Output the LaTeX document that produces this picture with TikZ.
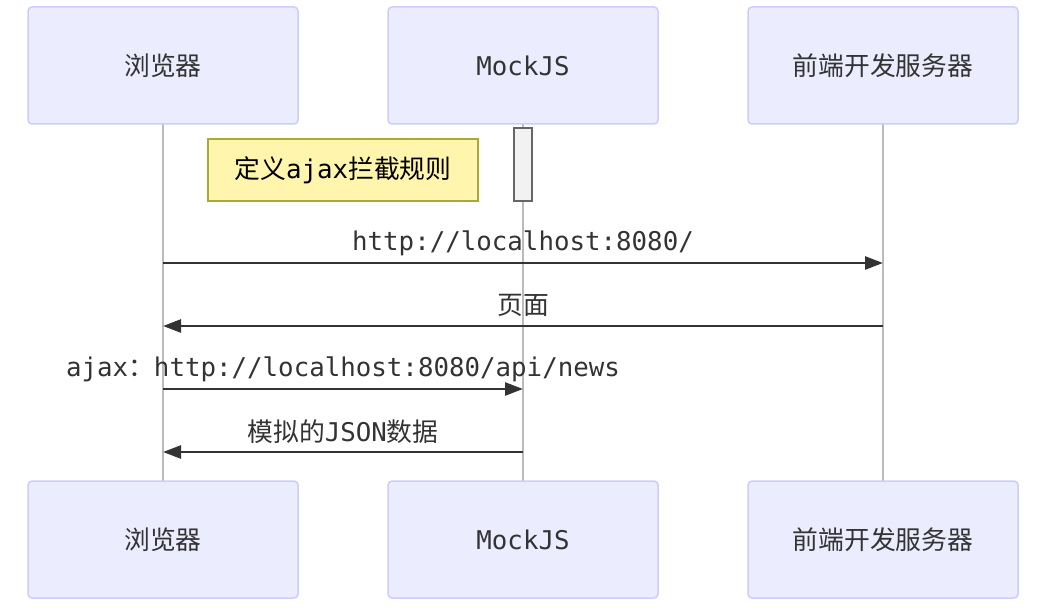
\documentclass[tikz,border=0pt]{standalone}
\usepackage{fontspec}
\setmainfont{DejaVu Sans Mono}
\newfontfamily\cjk{Noto Sans CJK SC}
\usetikzlibrary{arrows.meta}
\definecolor{actfill}{HTML}{ECECFF}
\definecolor{actdraw}{HTML}{CCCCFF}
\definecolor{notefill}{HTML}{FFF5AD}
\definecolor{notedraw}{HTML}{AAAA33}
\definecolor{txt}{HTML}{333333}
\definecolor{life}{HTML}{BBBBBB}
\tikzset{
  actor/.style={draw=actdraw, fill=actfill, line width=1.5pt, rounded corners=4pt,
    minimum width=270pt, minimum height=117pt, inner sep=0pt, text=txt,
    font=\fontsize{25.8}{30}\selectfont},
  lifeline/.style={draw=life, line width=1.2pt},
  msg/.style={draw=txt, line width=2.6pt, -{Triangle[length=18pt,width=13pt]}},
  lbl/.style={text=txt, font=\fontsize{25.8}{30}\selectfont, inner sep=0pt},
  notebox/.style={draw=notedraw, fill=notefill, line width=1.5pt, minimum width=270pt,
    minimum height=62pt, inner sep=0pt, font=\fontsize{25.8}{30}\selectfont, text=black},
  actbox/.style={draw=black!60, fill=black!5, line width=1.5pt, minimum width=18pt,
    minimum height=73pt, inner sep=0pt}
}
\begin{document}
\begin{tikzpicture}[x=1pt,y=-1pt]
\useasboundingbox (0,0) rectangle (1057,612);
% lifelines
\coordinate (l1t) at (163,124); \coordinate (l1b) at (163,481);
\coordinate (l2t) at (523,124); \coordinate (l2b) at (523,481);
\coordinate (l3t) at (883,124); \coordinate (l3b) at (883,481);
\draw[lifeline] (l1t) -- (l1b);
\draw[lifeline] (l2t) -- (l2b);
\draw[lifeline] (l3t) -- (l3b);
% actors
\node[actor] (a1) at (163,65.5) {\cjk 浏览器};
\node[actor] (a2) at (523,65.5) {MockJS};
\node[actor] (a3) at (883,65.5) {\cjk 前端开发服务器};
\node[actor] (b1) at (163,539.5) {\cjk 浏览器};
\node[actor] (b2) at (523,539.5) {MockJS};
\node[actor] (b3) at (883,539.5) {\cjk 前端开发服务器};
% activation and note
\node[actbox] (act) at (523,164.5) {};
\node[notebox] (note) at (343,170) {{\cjk 定义}ajax{\cjk 拦截规则}};
% messages
\coordinate (m1s) at (163,263); \coordinate (m1e) at (883,263);
\coordinate (m2s) at (883,326); \coordinate (m2e) at (163,326);
\coordinate (m3s) at (163,389); \coordinate (m3e) at (523,389);
\coordinate (m4s) at (523,452); \coordinate (m4e) at (163,452);
\draw[msg] (m1s) -- (m1e);
\draw[msg] (m2s) -- (m2e);
\draw[msg] (m3s) -- (m3e);
\draw[msg] (m4s) -- (m4e);
\node[lbl] (t1) at (523,243) {http://localhost:8080/};
\node[lbl] (t2) at (523,305) {\cjk 页面};
\node[lbl] (t3) at (343,369) {ajax{\cjk ：}http://localhost:8080/api/news};
\node[lbl] (t4) at (343,432) {{\cjk 模拟的}JSON{\cjk 数据}};
\end{tikzpicture}
\end{document}
